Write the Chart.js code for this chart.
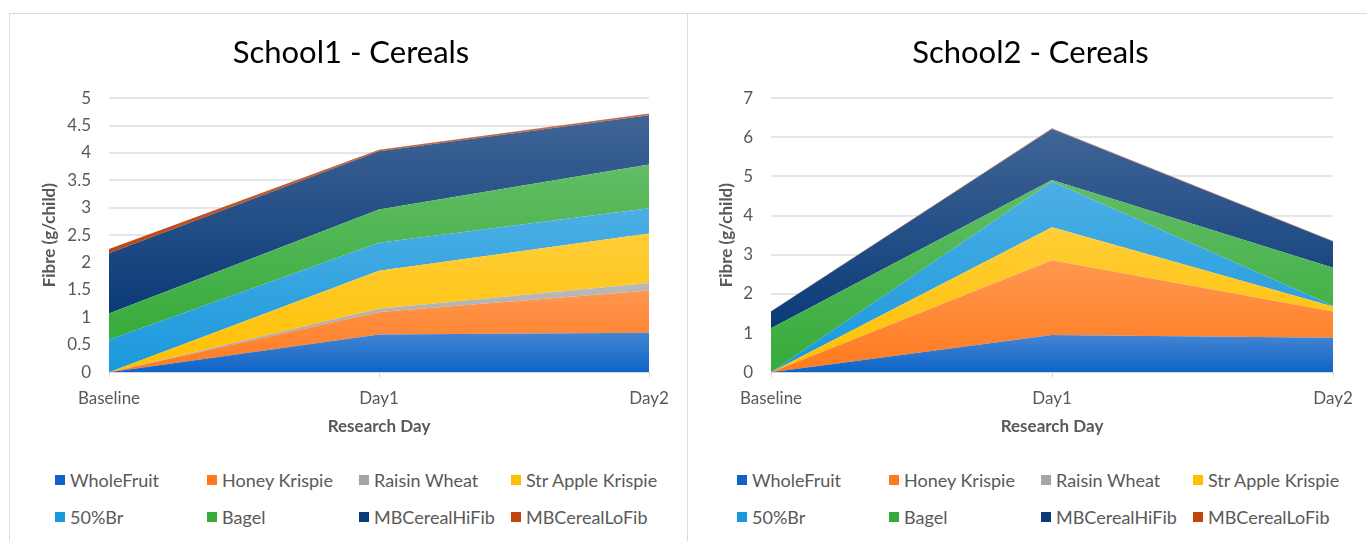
<!DOCTYPE html>
<html>
<head>
<meta charset="utf-8">
<script src="https://cdn.jsdelivr.net/npm/chart.js@4/dist/chart.umd.min.js"></script>
<style>
  body { margin: 0; background: #fff; font-family: Lato, sans-serif; }
  .panel { position: absolute; top: 13px; height: 540px; border-top: 1px solid #D9DDE3; }
  #p1 { left: 9px; width: 677px; border-left: 1px solid #D9DDE3; border-right: 1px solid #D9DDE3; }
  #p2 { left: 687px; width: 680px; }
  .panel canvas { position: absolute; left: 0; top: 0; }
  .legend { position: absolute; top: 455px; display: grid; grid-template-columns: repeat(4, 152px); row-gap: 15px; }
  .legend div { display: flex; align-items: center; height: 22px; color: #595959; font-size: 18px; white-space: nowrap; }
  .legend span { display: inline-block; width: 10px; height: 10px; margin-right: 5px; }
</style>
</head>
<body>
<div class="panel" id="p1">
  <canvas id="chart1" width="676" height="431"></canvas>
  <div class="legend" id="legend1" style="left:45px"></div>
</div>
<div class="panel" id="p2">
  <canvas id="chart2" width="680" height="431"></canvas>
  <div class="legend" id="legend2" style="left:50px"></div>
</div>
<script>
// categories
const days = ['Baseline', 'Day1', 'Day2'];
const cereals = ['WholeFruit', 'Honey Krispie', 'Raisin Wheat', 'Str Apple Krispie',
                 '50%Br', 'Bagel', 'MBCerealHiFib', 'MBCerealLoFib'];
const colours = ['#0F63C6', '#FF7A1E', '#A5A5A5', '#FFC000',
                 '#1A98DC', '#36AB3A', '#0A3A78', '#C0450F'];

// School1 values (g/child)
const s1WholeFruit = [0, 0.69, 0.72];
const s1Honey      = [0, 0.41, 0.77];
const s1Raisin     = [0, 0.06, 0.14];
const s1StrApple   = [0, 0.69, 0.90];
const s1Br50       = [0.59, 0.51, 0.46];
const s1Bagel      = [0.48, 0.61, 0.80];
const s1HiFib      = [1.10, 1.06, 0.90];
const s1LoFib      = [0.08, 0.03, 0.03];

// School2 values (g/child)
const s2WholeFruit = [0, 0.95, 0.88];
const s2Honey      = [0, 1.91, 0.67];
const s2Raisin     = [0, 0, 0];
const s2StrApple   = [0, 0.84, 0.13];
const s2Br50       = [0, 1.17, 0.02];
const s2Bagel      = [1.12, 0.04, 0.97];
const s2HiFib      = [0.43, 1.30, 0.67];
const s2LoFib      = [0.01, 0.02, 0.01];

const school1 = [s1WholeFruit, s1Honey, s1Raisin, s1StrApple, s1Br50, s1Bagel, s1HiFib, s1LoFib];
const school2 = [s2WholeFruit, s2Honey, s2Raisin, s2StrApple, s2Br50, s2Bagel, s2HiFib, s2LoFib];

function lighten(hex, amt) {
    let n = parseInt(hex.slice(1), 16);
    let r = (n >> 16) & 255, g = (n >> 8) & 255, b = n & 255;
    r = Math.round(r + (255 - r) * amt);
    g = Math.round(g + (255 - g) * amt);
    b = Math.round(b + (255 - b) * amt);
    return 'rgb(' + r + ',' + g + ',' + b + ')';
}

// padLeft/yWidth/titleShift keep the plot where it is while the chart title
// gets centred over the panel
function makeChart(id, legendId, title, series, yMax, yStep, padLeft, yWidth, yTitlePad, padRight) {
    // cumulative sums so each band's gradient covers its own height
    let cum = days.map(() => 0);
    let bands = series.map((vals) => {
        let low = Math.min(...cum);
        cum = cum.map((c, i) => c + vals[i]);
        return { low: low, high: Math.max(...cum) };
    });

    let datasets = series.map((vals, i) => ({
        label: cereals[i],
        data: vals,
        fill: i === 0 ? 'origin' : '-1',
        borderWidth: 0,
        pointRadius: 0,
        legendColor: colours[i],
        backgroundColor: (ctx) => {
            const chart = ctx.chart;
            const y = chart.scales.y;
            if (!chart.chartArea || !y) return colours[i];
            let top = y.getPixelForValue(bands[i].high);
            let bottom = y.getPixelForValue(bands[i].low);
            if (bottom - top < 2) return colours[i];
            let grad = chart.ctx.createLinearGradient(0, top, 0, bottom);
            grad.addColorStop(0, lighten(colours[i], 0.22));
            grad.addColorStop(1, colours[i]);
            return grad;
        }
    }));

    let chart = new Chart(document.getElementById(id), {
        type: 'line',
        data: { labels: days, datasets: datasets },
        options: {
            responsive: false,
            animation: false,
            layout: { padding: { left: padLeft, right: padRight, bottom: 4, top: 0 } },
            plugins: {
                legend: { display: false },
                tooltip: { enabled: false },
                title: {
                    display: true,
                    text: title,
                    color: '#000',
                    font: { family: 'Lato', size: 31, weight: 'normal' },
                    padding: { top: 20, bottom: 27 }
                }
            },
            scales: {
                x: {
                    grid: { drawOnChartArea: false, drawTicks: true, tickLength: 5, color: '#D9D9D9' },
                    border: { color: '#D9D9D9' },
                    ticks: { color: '#595959', font: { family: 'Lato', size: 17 }, padding: 11, maxRotation: 0 },
                    title: {
                        display: true, text: 'Research Day', color: '#595959',
                        font: { family: 'Lato', size: 17, weight: 'bold' },
                        padding: { top: -3, bottom: 4 }
                    }
                },
                y: {
                    stacked: true,
                    min: 0,
                    max: yMax,
                    grid: { color: '#E3E6EA', drawTicks: false, lineWidth: 2 },
                    border: { display: false },
                    ticks: {
                        stepSize: yStep, color: '#595959', font: { family: 'Lato', size: 17 }, padding: 18,
                        callback: (v) => String(Number(v.toFixed(1)))
                    },
                    title: {
                        display: true, text: 'Fibre (g/child)', color: '#595959',
                        font: { family: 'Lato', size: 17, weight: 'bold' },
                        padding: { top: yTitlePad, bottom: 4 }
                    },
                    afterFit: (scale) => { scale.width = yWidth; }
                }
            }
        }
    });

    // legend in four columns, built from the chart's datasets
    let legend = document.getElementById(legendId);
    chart.data.datasets.forEach((ds) => {
        let item = document.createElement('div');
        let box = document.createElement('span');
        box.style.background = ds.legendColor;
        item.appendChild(box);
        item.appendChild(document.createTextNode(ds.label));
        legend.appendChild(item);
    });
    return chart;
}

makeChart('chart1', 'legend1', 'School1 - Cereals', school1, 5, 0.5, 43, 56, -14, 37);
makeChart('chart2', 'legend2', 'School2 - Cereals', school2, 7, 1, 41, 43, -12, 34);
</script>
</body>
</html>
